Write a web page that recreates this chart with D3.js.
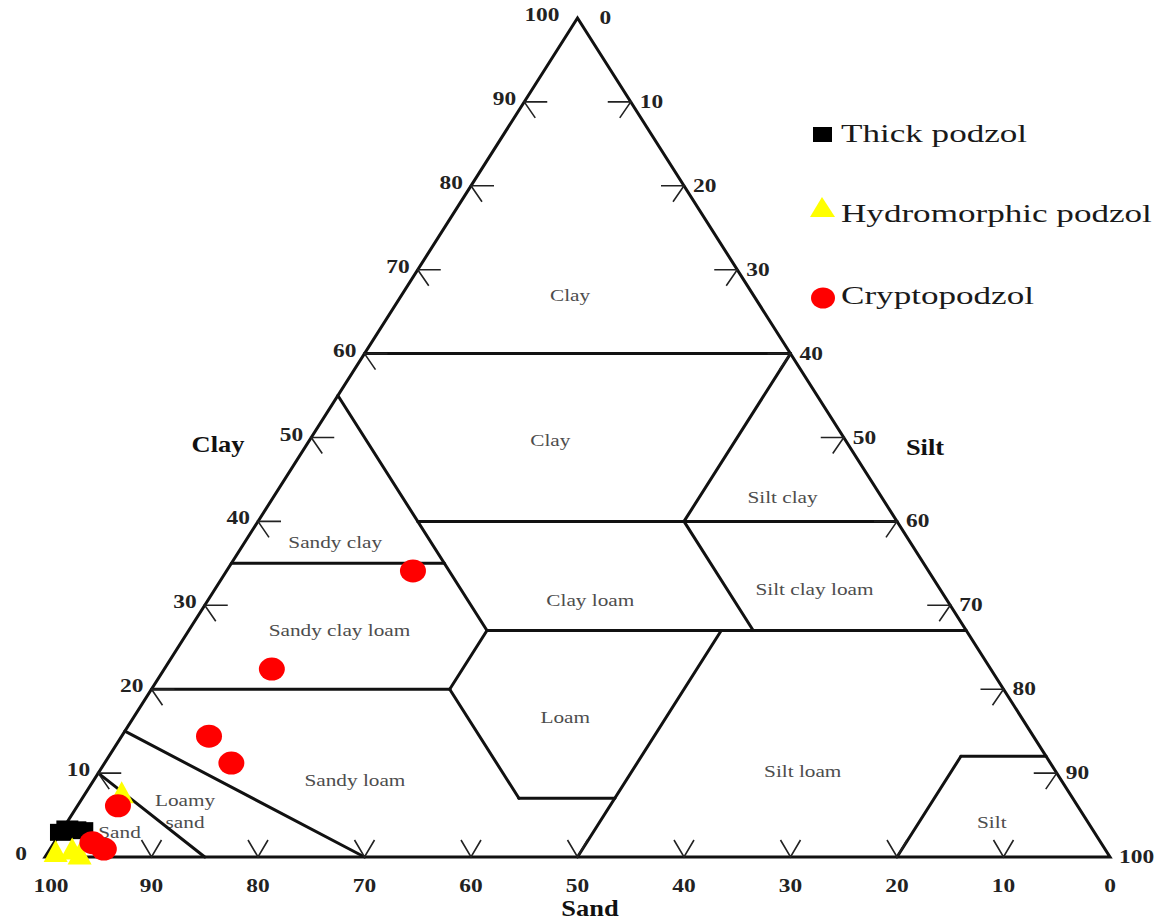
<!DOCTYPE html>
<html><head><meta charset="utf-8">
<script src="https://cdn.jsdelivr.net/npm/d3@7"></script>
<style>body{margin:0;background:#fff;} svg{display:block;}</style>
</head><body>
<svg id="chart" width="1167" height="921"></svg>
<script>
// ---------- data ----------
const tickValues = [0,10,20,30,40,50,60,70,80,90,100];
// texture class boundary segments, as [sand, clay] end points (silt = 100 - sand - clay)
const boundarySand = [[40,0],[45,45],[45,0],[65,45],[45,0],[45,52],[80,52],[52,52],[52,43],[23,50],[20,20],[0,20],[85,70],[90,85],[8,20],[8,0]];
const boundaryClay = [[60,60],[55,27],[40,40],[35,35],[27,27],[27,20],[20,20],[20,7],[7,7],[27,0],[40,27],[60,40],[15,0],[10,0],[12,0],[12,12]];
// texture class labels and their [sand, clay] anchor
const classNames = ["Clay","Clay","Silt clay","Sandy clay","Clay loam","Silt clay loam","Sandy clay loam","Loam","Sandy loam","Silt loam","Silt","Sand"];
const classSand  = [17.2,27.7,9.3,54,33.5,11.8,58.8,42.8,66.3,23.7,9,91.5];
const classClay  = [67,49.7,42.9,37.5,30.6,31.9,27.1,16.7,9.2,10.3,4.2,3];
const loamySandLines = ["Loamy","sand"];
const loamySandPos = [84.1,5.5];
// samples
const seriesNames = ["Thick podzol","Hydromorphic podzol","Cryptopodzol"];
const thickSand = [97.0,96.2,95.5,94.9];
const thickClay = [3.0,3.4,3.3,3.2];
const hydroSand = [98.7,97.0,96.6,89.0];
const hydroClay = [0.6,0.9,0.3,7.6];
const cryptoSand = [48.4,67.5,77.4,76.9,90.1,94.7,94.0];
const cryptoClay = [34.1,22.4,14.4,11.2,6.1,1.7,0.95];

// ---------- scales ----------
const svg = d3.select("#chart");
const xs = d3.scaleLinear().domain([0,100]).range([45,1110]);   // silt + clay/2
const ys = d3.scaleLinear().domain([0,100]).range([857,18]);    // clay
function P(sand, clay){ const silt = 100 - sand - clay; return [xs(silt + clay/2), ys(clay)]; }

const FONT = "'Liberation Serif','Times New Roman',serif";
function txt(g, x, y, s, o){
  return g.append("text")
    .attr("transform", `translate(${x},${y}) scale(${o.sx||1},1)`)
    .attr("text-anchor", o.anchor||"start")
    .attr("font-family", FONT)
    .attr("font-size", o.size)
    .attr("font-weight", o.weight||"normal")
    .attr("fill", o.fill||"#111")
    .text(s);
}

// ---------- class labels ----------
const gLab = svg.append("g");
classNames.forEach((n,i)=>{
  const [x,y] = P(classSand[i], classClay[i]);
  txt(gLab, x, y+6, n, {size:17, sx:1.25, anchor:"middle", fill:"#4d4d4d"});
});
{
  const [x,y] = P(loamySandPos[0], loamySandPos[1]);
  txt(gLab, x, y-5, loamySandLines[0], {size:17, sx:1.25, anchor:"middle", fill:"#4d4d4d"});
  txt(gLab, x, y+17, loamySandLines[1], {size:17, sx:1.25, anchor:"middle", fill:"#4d4d4d"});
}

// ---------- boundaries ----------
const line = d3.line();
const gB = svg.append("g").attr("fill","none").attr("stroke","#111").attr("stroke-width",3).attr("stroke-linecap","round");
boundarySand.forEach((s,i)=>{
  gB.append("path").attr("d", line([P(s[0], boundaryClay[i][0]), P(s[1], boundaryClay[i][1])]));
});
gB.append("path").attr("d", line([P(100,0),P(0,100),P(0,0)]) + "Z").attr("stroke-linejoin","miter");

// ---------- ticks ----------
const gT = svg.append("g").attr("fill","none").attr("stroke","#222").attr("stroke-width",1.6);
const gTL = svg.append("g");
const inner = tickValues.filter(v=>v>0 && v<100);
// clay (left edge)
inner.forEach(v=>{
  const [x,y] = P(100-v, v);
  gT.append("path").attr("d", line([[x+23,y],[x,y],[x+11,y+16]]));
});
tickValues.forEach(v=>{
  const [x,y] = P(100-v, v);
  const off = (v===0||v===100) ? 18 : 8;
  txt(gTL, x-off, y+3, String(v), {size:18, weight:"bold", sx:1.3, anchor:"end", fill:"#222"});
});
// silt (right edge)
inner.forEach(v=>{
  const [x,y] = P(0, 100-v);
  gT.append("path").attr("d", line([[x-23,y],[x,y],[x-11,y+16]]));
});
tickValues.forEach(v=>{
  const [x,y] = P(0, 100-v);
  const off = (v===0) ? 22 : 9;
  txt(gTL, x+off, y+6, String(v), {size:18, weight:"bold", sx:1.3, anchor:"start", fill:"#222"});
});
// sand (bottom edge)
inner.forEach(v=>{
  const [x,y] = P(v, 0);
  gT.append("path").attr("d", line([[x-10,y-17],[x,y],[x+10,y-17]]));
});
tickValues.forEach(v=>{
  const [x,y] = P(v, 0);
  txt(gTL, x + (v===100?6:0), y+35, String(v), {size:18, weight:"bold", sx:1.3, anchor:"middle", fill:"#222"});
});

// ---------- axis titles ----------
txt(svg, 218, 452, "Clay", {size:23, weight:"bold", sx:1.15, anchor:"middle"});
txt(svg, 925, 455, "Silt", {size:23, weight:"bold", sx:1.15, anchor:"middle"});
txt(svg, 590, 916, "Sand", {size:23, weight:"bold", sx:1.15, anchor:"middle"});

// ---------- points ----------
const gP = svg.append("g");
thickSand.forEach((s,i)=>{
  const [x,y] = P(s, thickClay[i]);
  gP.append("rect").attr("x",x-11).attr("y",y-8).attr("width",22).attr("height",17).attr("fill","#000");
});
hydroSand.forEach((s,i)=>{
  const [x,y] = P(s, hydroClay[i]);
  gP.append("path").attr("d", d3.line()([[x,y-12],[x+12,y+10],[x-12,y+10]])+"Z").attr("fill","#ffff00");
});
cryptoSand.forEach((s,i)=>{
  const [x,y] = P(s, cryptoClay[i]);
  gP.append("ellipse").attr("cx",x).attr("cy",y).attr("rx",13).attr("ry",11.5).attr("fill","#ff0000");
});

// ---------- legend ----------
const gL = svg.append("g");
gL.append("rect").attr("x",813).attr("y",127).attr("width",19).attr("height",15).attr("fill","#000");
gL.append("path").attr("d", d3.line()([[822,197],[835,217],[810,217]])+"Z").attr("fill","#ffff00");
gL.append("ellipse").attr("cx",823).attr("cy",298).attr("rx",12).attr("ry",10.5).attr("fill","#ff0000");
const legendY = [142,222,304];
seriesNames.forEach((n,i)=>{
  txt(gL, 841, legendY[i], n, {size:26, sx:1.35, anchor:"start", fill:"#1a1a1a"});
});
</script>
</body></html>
